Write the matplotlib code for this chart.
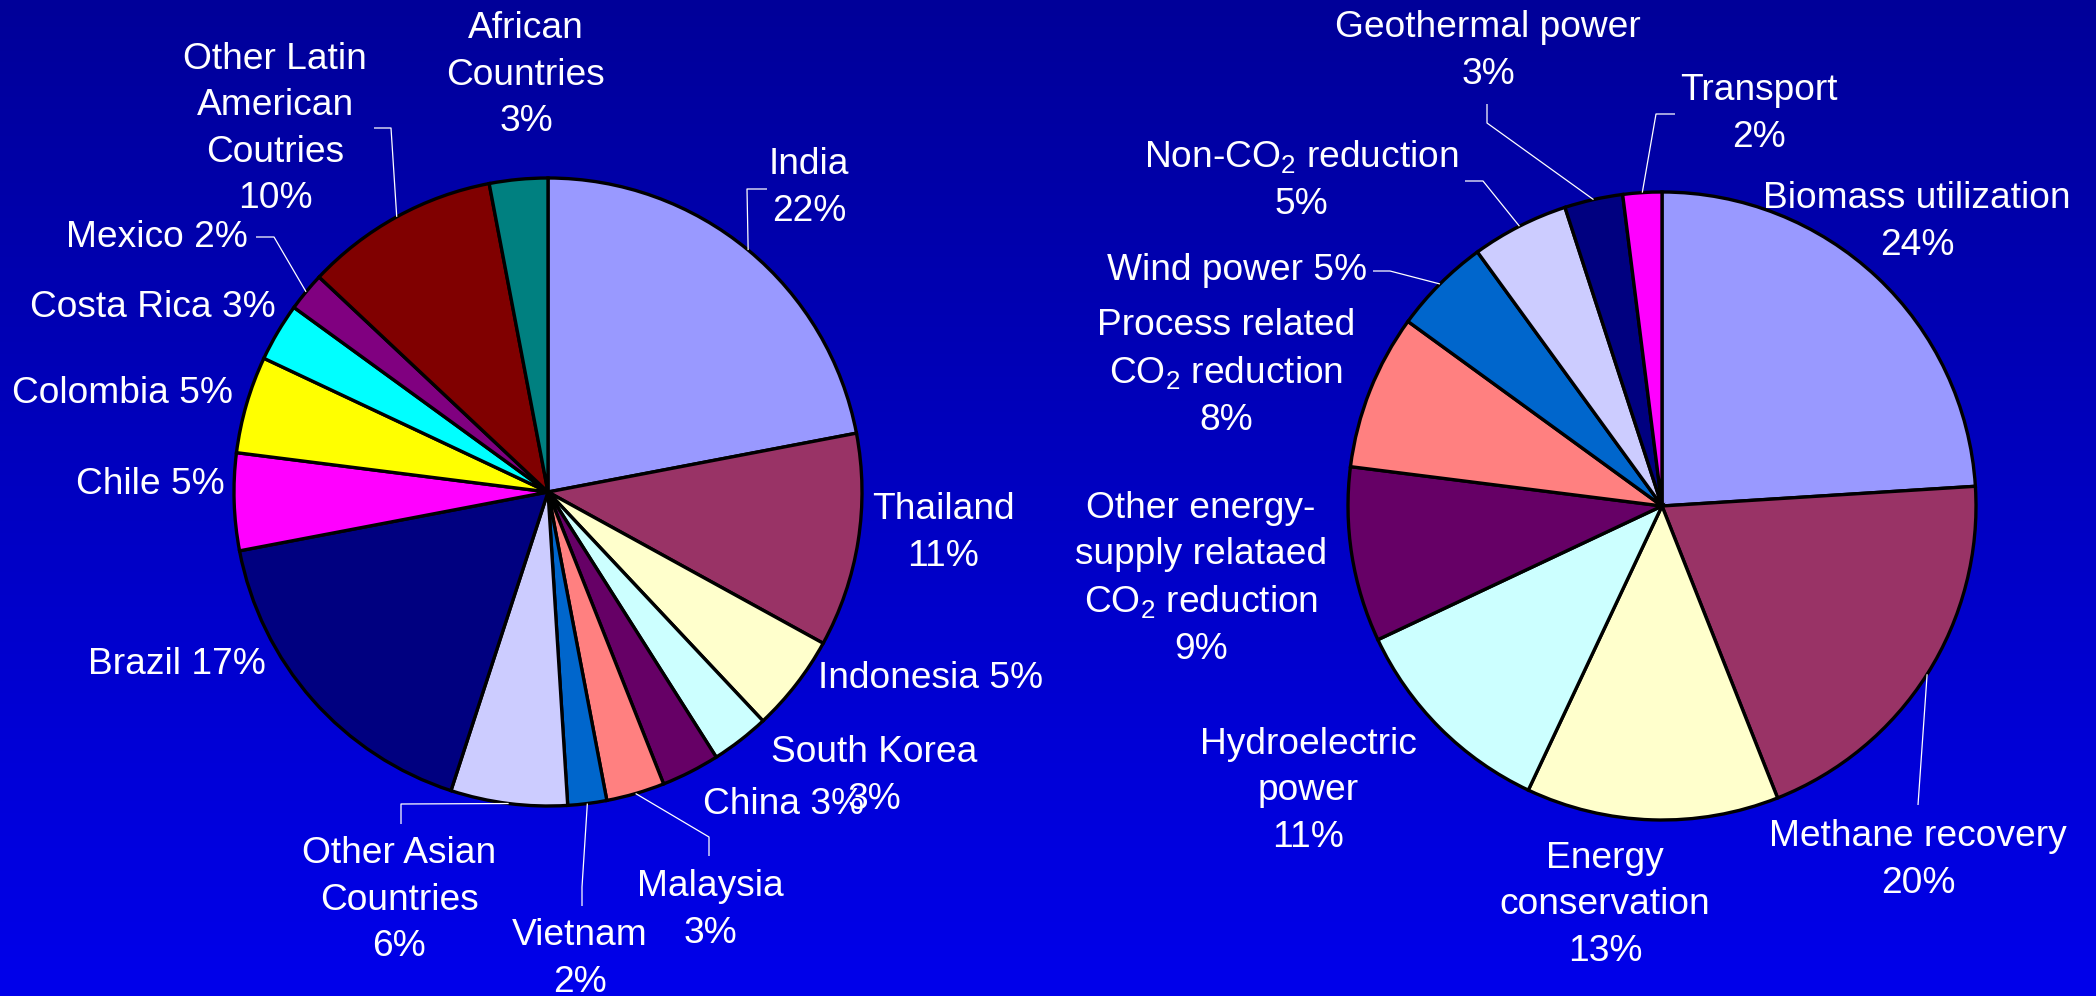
import numpy as np
import matplotlib.pyplot as plt

plt.rcParams['font.family'] = ['Liberation Sans', 'DejaVu Sans']
plt.rcParams['mathtext.fontset'] = 'custom'
plt.rcParams['mathtext.rm'] = 'Liberation Sans'

W, H = 2096, 996
CO2 = 'CO$_\\mathregular{2}$'

# host countries (left pie), clockwise from 12 o'clock
countries = ['India', 'Thailand', 'Indonesia', 'South Korea', 'China', 'Malaysia',
             'Vietnam', 'Other Asian\nCountries', 'Brazil', 'Chile', 'Colombia',
             'Costa Rica', 'Mexico', 'Other Latin\nAmerican\nCoutries', 'African\nCountries']
country_pct = [22, 11, 5, 3, 3, 3, 2, 6, 17, 5, 5, 3, 2, 10, 3]
country_colors = ['#9999FF', '#993366', '#FFFFCC', '#CCFFFF', '#660066', '#FF8080',
                  '#0066CC', '#CCCCFF', '#000080', '#FF00FF', '#FFFF00', '#00FFFF',
                  '#800080', '#800000', '#008080']

# project types (right pie)
sectors = ['Biomass utilization', 'Methane recovery', 'Energy\nconservation',
           'Hydroelectric\npower', 'Other energy-\nsupply relataed\n' + CO2 + ' reduction',
           'Process related\n' + CO2 + ' reduction', 'Wind power',
           'Non-' + CO2 + ' reduction', 'Geothermal power', 'Transport']
sector_pct = [24, 20, 13, 11, 9, 8, 5, 5, 3, 2]
sector_colors = ['#9999FF', '#993366', '#FFFFCC', '#CCFFFF', '#660066', '#FF8080',
                 '#0066CC', '#CCCCFF', '#000080', '#FF00FF']

# label centre (px from top-left), separator before the value, leader polyline
country_layout = [
    ((809, 188), '\n', [(747, 189), (767, 189)]),
    ((943, 533), '\n', None),
    ((931, 679), ' ', None),
    ((874, 776), '\n', None),
    ((784, 804), ' ', None),
    ((710, 910), '\n', [(709, 837), (709, 856)]),
    ((580, 959), '\n', [(582, 887), (582, 906)]),
    ((399, 900), '\n', [(401, 804), (401, 824)]),
    ((177, 664), ' ', None),
    ((150, 484), ' ', None),
    ((123, 393), ' ', None),
    ((153, 307), ' ', None),
    ((157, 237), ' ', [(274, 237), (256, 237)]),
    ((275, 129), '\n', [(391, 128), (374, 128)]),
    ((526, 75), '\n', None),
]
sector_layout = [
    ((1917, 222), '\n', None),
    ((1918, 860), '\n', [(1918, 805)]),
    ((1605, 905), '\n', None),
    ((1308, 791), '\n', None),
    ((1201, 579), '\n', None),
    ((1226, 373), '\n', None),
    ((1237, 270), ' ', [(1390, 271), (1373, 271)]),
    ((1301, 180), '\n', [(1483, 181), (1465, 181)]),
    ((1488, 51), '\n', [(1487, 123), (1487, 104)]),
    ((1759, 114), '\n', [(1656, 114), (1675, 114)]),
]


def draw_pie(ax, pct, colors, names, layout, center, radius):
    cx, cy = center[0], H - center[1]
    wedges, _ = ax.pie(pct, colors=colors, startangle=90, counterclock=False,
                       center=(cx, cy), radius=radius,
                       wedgeprops=dict(edgecolor='black', linewidth=2.4))
    for w, name, v, (pos, sep, path) in zip(wedges, names, pct, layout):
        ax.text(pos[0], H - pos[1], f'{name}{sep}{v}%', color='white',
                fontsize=26.7, ha='center', va='center', multialignment='center',
                linespacing=1.41)
        if path:
            mid = np.deg2rad((w.theta1 + w.theta2) / 2)
            xs = [cx + radius * np.cos(mid)] + [p[0] for p in path]
            ys = [cy + radius * np.sin(mid)] + [H - p[1] for p in path]
            ax.plot(xs, ys, color='white', lw=0.9, solid_capstyle='butt')


fig = plt.figure(figsize=(W / 100, H / 100), dpi=100)
ax = fig.add_axes([0, 0, 1, 1])

# dark-to-bright blue backdrop
top = np.array([0, 0, 153]) / 255
bottom = np.array([0, 0, 235]) / 255
t = np.linspace(0, 1, 256)[:, None, None]
grad = top * (1 - t) + bottom * t
ax.imshow(grad, extent=[0, W, 0, H], aspect='auto', zorder=0)

draw_pie(ax, country_pct, country_colors, countries, country_layout, (548, 492), 314)
draw_pie(ax, sector_pct, sector_colors, sectors, sector_layout, (1662, 506), 314)

ax.set_xlim(0, W)
ax.set_ylim(0, H)
ax.set_aspect('equal')
ax.axis('off')

fig.savefig('out.png', dpi=100)
